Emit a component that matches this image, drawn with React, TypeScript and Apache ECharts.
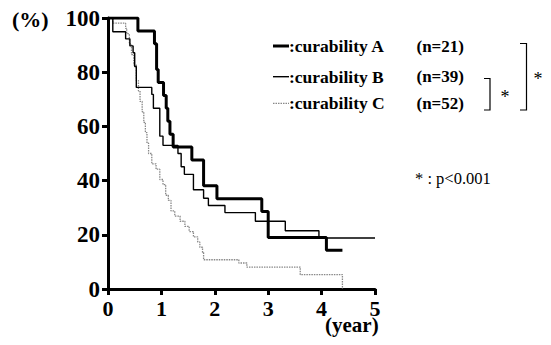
import React, { useEffect, useRef } from "react";
import * as echarts from "echarts";

// Curability A (n=21)
const timesA = [0, 0.56, 0.87, 0.91, 0.94, 1.04, 1.09, 1.12, 1.16, 1.22, 1.57, 1.79, 2.04, 2.88, 3.0, 4.09, 4.39];
const survA = [100, 95.2, 90.5, 81.0, 76.2, 71.4, 66.7, 61.9, 57.1, 52.4, 47.6, 38.1, 33.3, 28.6, 19.0, 14.3, 14.3];

// Curability B (n=39)
const timesB = [0, 0.09, 0.33, 0.41, 0.47, 0.5, 0.53, 0.82, 0.85, 0.97, 1.03, 1.31, 1.37, 1.43, 1.6, 1.79, 1.88, 2.19, 2.76, 3.32, 3.95, 5.0];
const survB = [100, 94.9, 92.3, 89.7, 87.2, 82.1, 74.4, 71.8, 66.7, 56.4, 53.0, 50.0, 45.1, 42.3, 36.6, 33.5, 30.8, 28.2, 25.0, 21.5, 18.8, 18.8];

// Curability C (n=52)
const timesC = [0, 0.09, 0.33, 0.35, 0.4, 0.44, 0.48, 0.53, 0.57, 0.6, 0.64, 0.67, 0.7, 0.73, 0.76, 0.82, 0.9, 0.97, 1.03, 1.08, 1.13, 1.18, 1.25, 1.35, 1.44, 1.52, 1.6, 1.68, 1.72, 1.77, 1.79, 2.45, 2.6, 3.6, 4.39];
const survC = [100, 98.1, 96.2, 94.2, 90.4, 86.5, 82.7, 76.9, 73.1, 69.2, 65.4, 61.5, 57.7, 53.8, 50.0, 46.2, 44.2, 40.4, 38.5, 34.6, 32.7, 28.8, 26.9, 25.0, 23.1, 21.2, 19.2, 17.3, 15.4, 13.5, 10.8, 9.6, 8.1, 5.3, 0];

const legendLabels = [":curability A", ":curability B", ":curability C"];
const legendCounts = ["(n=21)", "(n=39)", "(n=52)"];
const pNote = "* : p<0.001";
const yUnit = "(%)";
const xUnit = "(year)";

const serif = "Liberation Serif, Times New Roman, serif";

export default function App() {
  const ref = useRef<HTMLDivElement>(null);
  useEffect(() => {
    document.body.style.margin = "0";
    const chart = echarts.init(ref.current!, null, { renderer: "svg" });
    const zip = (t: number[], s: number[]) => t.map((v, i) => [v, s[i]]);
    const axisLine = { show: true, lineStyle: { color: "#000", width: 3 } };
    const axisTick = { show: true, inside: false, length: 6, lineStyle: { color: "#000", width: 3 } };
    const legendY = [46, 76.7, 103.3];
    const legendStyles = [
      { stroke: "#000", lineWidth: 3 },
      { stroke: "#000", lineWidth: 1.4 },
      { stroke: "#888", lineWidth: 1.2, lineDash: [1.5, 1] },
    ];
    const graphic: any[] = [];
    legendLabels.forEach((lab, i) => {
      graphic.push({
        type: "line",
        shape: { x1: 273, y1: legendY[i], x2: 289, y2: legendY[i] },
        style: legendStyles[i],
      });
      graphic.push({
        type: "text",
        x: 289,
        y: legendY[i],
        style: { text: lab, fontFamily: serif, fontWeight: "bold", fontSize: 17.5, fill: "#000", verticalAlign: "middle", textVerticalAlign: "middle" },
      });
      graphic.push({
        type: "text",
        x: 416.5,
        y: legendY[i],
        style: { text: legendCounts[i], fontFamily: serif, fontWeight: "bold", fontSize: 17, fill: "#000", verticalAlign: "middle", textVerticalAlign: "middle" },
      });
    });
    graphic.push({
      type: "polyline",
      shape: { points: [[484, 78.5], [490, 78.5], [490, 110], [484, 110]] },
      style: { stroke: "#000", lineWidth: 1.2, fill: "none" },
    });
    graphic.push({
      type: "polyline",
      shape: { points: [[520, 43.5], [526.5, 43.5], [526.5, 110], [520, 110]] },
      style: { stroke: "#000", lineWidth: 1.2, fill: "none" },
    });
    graphic.push({
      type: "text", x: 505, y: 97,
      style: { text: "*", fontFamily: serif, fontSize: 18, fill: "#000", align: "center", textAlign: "center", verticalAlign: "middle", textVerticalAlign: "middle" },
    });
    graphic.push({
      type: "text", x: 538, y: 79,
      style: { text: "*", fontFamily: serif, fontSize: 18, fill: "#000", align: "center", textAlign: "center", verticalAlign: "middle", textVerticalAlign: "middle" },
    });
    graphic.push({
      type: "text", x: 415, y: 178.5,
      style: { text: pNote, fontFamily: serif, fontSize: 16.5, fill: "#000", verticalAlign: "middle", textVerticalAlign: "middle" },
    });
    graphic.push({
      type: "text", x: 12, y: 19,
      style: { text: yUnit, fontFamily: serif, fontWeight: "bold", fontSize: 22, fill: "#000", verticalAlign: "middle", textVerticalAlign: "middle" },
    });
    graphic.push({
      type: "text", x: 325, y: 325,
      style: { text: xUnit, fontFamily: serif, fontWeight: "bold", fontSize: 21, lineHeight: 12, fill: "#000", verticalAlign: "middle", textVerticalAlign: "middle" },
    });

    chart.setOption({
      animation: false,
      backgroundColor: "#fff",
      textStyle: { fontFamily: serif },
      grid: { left: 108, right: 176, top: 18, bottom: 56 },
      xAxis: {
        type: "value", min: 0, max: 5, interval: 1, axisLine, axisTick,
        axisLabel: { color: "#000", fontFamily: serif, fontWeight: "bold", fontSize: 22, lineHeight: 12, margin: 13 },
        splitLine: { show: false },
      },
      yAxis: {
        type: "value", min: 0, max: 100, interval: 20, axisLine, axisTick,
        axisLabel: { color: "#000", fontFamily: serif, fontWeight: "bold", fontSize: 23, margin: 8 },
        splitLine: { show: false },
      },
      series: [
        {
          type: "line", step: "end", showSymbol: false, data: zip(timesC, survC), z: 2,
          lineStyle: { color: "#888", width: 1.3, type: [1.5, 1] },
        },
        {
          type: "line", step: "end", showSymbol: false, data: zip(timesB, survB), z: 3,
          lineStyle: { color: "#000", width: 1.4 },
        },
        {
          type: "line", step: "end", showSymbol: false, data: zip(timesA, survA), z: 4,
          lineStyle: { color: "#000", width: 3 },
        },
      ],
      graphic,
    });
    return () => chart.dispose();
  }, []);
  return <div ref={ref} style={{ width: 551, height: 345 }} />;
}
